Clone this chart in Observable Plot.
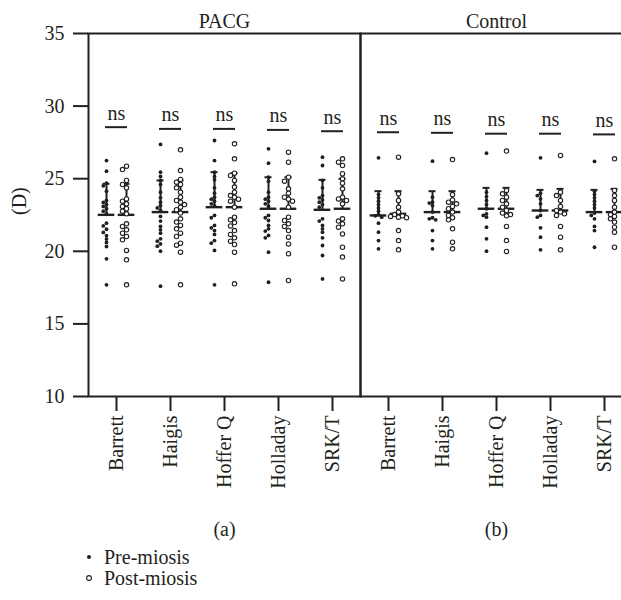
<!DOCTYPE html>
<html><head><meta charset="utf-8">
<script src="https://cdn.jsdelivr.net/npm/d3@7"></script>
<script src="https://cdn.jsdelivr.net/npm/@observablehq/plot@0.6"></script>
<style>
body { margin:0; background:#fff; font-family: "Liberation Serif", "Times New Roman", serif; color:#231f20; }
#wrap { width: 621px; overflow: hidden; }
#chart svg { display:block; }
.legend { margin-left: 84px; margin-top: 1.5px; font-size: 20px; line-height: 21px; }
.legend div { display:flex; align-items:center; height:21px; }
.legend svg { width:10px; height:10px; margin-right:10px; }
</style></head>
<body><div id="wrap"><div id="chart"></div><div class="legend" id="legend"></div></div>
<script>
const groups = ["PACG", "Control"];
const panelLetters = ["(a)", "(b)"];
const formulas = ["Barrett", "Haigis", "Hoffer Q", "Holladay", "SRK/T"];
const phaseLabels = ["Pre-miosis", "Post-miosis"];

// PACG, pre-miosis (one list per formula)
const pacgPre = [
  [26.25,25.52,24.69,24.51,24.14,23.50,23.36,23.22,23.09,22.93,22.76,22.58,21.94,21.75,21.52,21.30,21.07,20.84,20.61,20.33,19.48,17.69],
  [27.36,25.45,25.15,24.88,24.60,24.07,23.68,23.38,23.15,22.99,22.81,22.40,22.08,21.71,21.48,21.25,20.86,20.70,20.51,20.35,20.01,17.60],
  [27.63,26.25,25.45,25.15,24.92,24.37,24.00,23.73,23.59,23.45,23.27,23.13,22.47,22.31,21.78,21.62,21.43,21.16,20.74,20.56,20.06,17.69],
  [27.06,26.07,25.10,24.83,24.07,23.73,23.59,23.45,23.27,23.09,22.47,22.31,22.12,21.78,21.55,21.39,21.09,20.93,19.94,17.87],
  [26.48,25.91,24.88,24.37,23.84,23.68,23.54,23.38,23.22,23.04,22.24,22.08,21.78,21.55,21.32,20.93,20.40,19.71,18.10]
];
// PACG, post-miosis
const pacgPost = [
  [25.86,25.63,24.88,24.60,24.37,23.61,23.45,23.27,23.09,22.93,22.76,22.58,21.89,21.71,21.48,21.25,21.02,20.79,20.06,19.41,17.69],
  [26.99,25.56,24.95,24.76,24.60,24.37,24.07,23.73,23.50,23.38,23.22,23.04,22.86,22.63,22.24,22.01,21.78,21.55,21.25,21.02,20.56,20.42,19.94,17.69],
  [27.40,26.37,25.38,25.22,24.88,24.42,24.07,23.84,23.73,23.59,23.45,23.04,22.35,22.17,21.98,21.75,21.43,21.16,20.93,20.70,20.47,19.94,17.76],
  [26.83,26.14,25.10,24.83,24.30,24.00,23.73,23.59,23.45,23.04,22.35,22.12,21.89,21.71,21.43,20.97,20.51,19.83,17.99],
  [26.37,26.14,25.91,25.34,24.99,24.69,24.30,23.73,23.61,23.50,23.27,22.24,22.08,21.89,21.66,21.20,20.28,19.60,18.10]
];
// Control, pre-miosis
const controlPre = [
  [26.44,23.91,23.68,23.45,23.22,22.99,22.76,22.53,22.44,22.35,21.94,21.32,20.74,20.17],
  [26.21,23.73,23.38,23.32,23.15,22.70,22.31,22.24,22.17,21.43,20.74,20.17],
  [26.76,24.07,23.77,23.50,23.22,22.93,22.58,22.47,22.35,21.66,20.86,20.01],
  [26.44,24.00,23.84,23.61,23.27,22.81,22.47,22.35,21.62,20.97,20.10],
  [26.19,24.14,23.91,23.68,23.45,23.22,22.99,22.63,22.47,22.24,21.71,21.43,20.28]
];
// Control, post-miosis
const controlPost = [
  [26.48,23.96,23.50,23.04,22.70,22.53,22.44,22.40,22.35,22.31,21.43,20.74,20.10],
  [26.32,23.91,23.54,23.38,23.27,23.09,22.93,22.70,22.47,22.31,22.17,21.55,20.63,20.17],
  [26.90,24.19,23.96,23.73,23.50,23.27,23.04,22.81,22.63,22.53,22.44,21.71,20.74,19.99],
  [26.60,24.07,23.84,23.50,23.09,22.81,22.70,22.58,22.47,21.71,20.97,20.10],
  [26.37,24.19,23.84,23.50,23.04,22.70,22.53,22.40,22.24,22.01,21.66,21.32,20.28]
];

// Mean and SD (error bar drawn above the mean)
const pacgPreMean = [22.51, 22.70, 23.04, 22.93, 22.86];
const pacgPreSD = [2.14, 2.18, 2.41, 2.17, 2.06];
const pacgPostMean = [22.51, 22.70, 23.04, 22.93, 22.93];
const pacgPostSD = [2.14, 2.18, 2.34, 2.17, 2.06];
const controlPreMean = [22.47, 22.70, 22.93, 22.81, 22.70];
const controlPreSD = [1.67, 1.44, 1.44, 1.42, 1.53];
const controlPostMean = [22.58, 22.70, 22.93, 22.81, 22.70];
const controlPostSD = [1.56, 1.44, 1.44, 1.49, 1.60];

// Height of the "ns" bracket lines
const pacgNs = [28.55, 28.43, 28.43, 28.36, 28.27];
const controlNs = [28.20, 28.16, 28.10, 28.10, 28.05];
const nsLabel = "ns";

const yDomain = [10, 35];
const dims = {width: 632, height: 545, marginTop: 33, marginBottom: 149, marginLeft: 88, marginRight: 0};
const pxPerUnit = (dims.height - dims.marginTop - dims.marginBottom) / (yDomain[1] - yDomain[0]);

const seriesDefs = [
  {group: "PACG", phase: 0, values: pacgPre, means: pacgPreMean, sds: pacgPreSD},
  {group: "PACG", phase: 1, values: pacgPost, means: pacgPostMean, sds: pacgPostSD},
  {group: "Control", phase: 0, values: controlPre, means: controlPreMean, sds: controlPreSD},
  {group: "Control", phase: 1, values: controlPost, means: controlPostMean, sds: controlPostSD}
];

// scatter-plot spreading of overlapping points into side lanes (beeswarm-like)
const laneOrder = [0, -1, 1, -2, 2];
const laneStep = [3.2, 4.0];
const minDist = [3.2, 4.2];
function assignLanes(values, ph) {
  const placed = [];
  const order = values.map((v, i) => i).sort((a, b) => values[b] - values[a]);
  const lanes = new Array(values.length);
  for (const i of order) {
    const y = values[i] * pxPerUnit;
    let best = 0, bestGap = -Infinity;
    for (const lane of laneOrder) {
      const gap = Math.min(Infinity, ...placed.map(p => Math.hypot((p.lane - lane) * laneStep[ph], p.y - y)));
      if (gap >= minDist[ph]) { best = lane; bestGap = Infinity; break; }
      if (gap > bestGap + 0.5) { best = lane; bestGap = gap; }
    }
    lanes[i] = best;
    placed.push({lane: best, y});
  }
  return lanes;
}

const points = [[], []];
const stats = [[], []];
for (const s of seriesDefs) {
  formulas.forEach((f, i) => {
    const lanes = assignLanes(s.values[i], s.phase);
    s.values[i].forEach((v, k) => points[s.phase].push({group: s.group, formula: f, value: v, lane: lanes[k]}));
    stats[s.phase].push({group: s.group, formula: f, mean: s.means[i], top: s.means[i] + s.sds[i]});
  });
}
const nsRows = [];
formulas.forEach((f, i) => {
  nsRows.push({group: "PACG", formula: f, y: pacgNs[i]});
  nsRows.push({group: "Control", formula: f, y: controlNs[i]});
});

const ink = "#231f20";
const offsets = [-10, 10];

function errorMarks(ph) {
  return [
    Plot.ruleX(stats[ph], {fx: "group", x: "formula", y1: "mean", y2: "top", dx: offsets[ph], stroke: ink, strokeWidth: 2}),
    Plot.tickY(stats[ph], {fx: "group", x: "formula", y: "mean", dx: offsets[ph], insetLeft: 18.7, insetRight: 18.7, stroke: ink, strokeWidth: 2.4}),
    Plot.tickY(stats[ph], {fx: "group", x: "formula", y: "top", dx: offsets[ph], insetLeft: 23.5, insetRight: 23.5, stroke: ink, strokeWidth: 2})
  ];
}
function dotMarks(ph) {
  return laneOrder.map(lane => Plot.dot(points[ph].filter(d => d.lane === lane), {
    fx: "group", x: "formula", y: "value", dx: offsets[ph] + lane * laneStep[ph],
    ...(ph === 0 ? {r: 1.9, fill: ink, stroke: "none"} : {r: 2.2, fill: "white", stroke: ink, strokeWidth: 1.1})
  }));
}

const chart = Plot.plot({
  ...dims,
  style: {fontFamily: "'Liberation Serif', 'Times New Roman', serif", fontSize: "20px", color: ink, background: "white", maxWidth: "none"},
  fx: {domain: groups, padding: 0},
  x: {domain: formulas, type: "band", padding: 0},
  y: {domain: yDomain},
  marks: [
    Plot.frame({stroke: ink, strokeWidth: 2}),
    Plot.axisY({ticks: [10, 15, 20, 25, 30, 35], tickSize: 15, tickPadding: 9, stroke: ink, strokeWidth: 2, label: null, fontSize: 20}),
    Plot.text(["(D)"], {fx: () => "PACG", text: d => d, frameAnchor: "left", rotate: -90, dx: -69, fontSize: 20, fill: ink}),
    Plot.axisX({tickRotate: -90, tickSize: 15, tickPadding: 4, stroke: ink, strokeWidth: 2, label: null, fontSize: 20}),
    Plot.axisFx({anchor: "top", label: null, tickSize: 0, tickPadding: 6, fontSize: 20}),
    Plot.axisFx({anchor: "bottom", label: null, tickSize: 0, tickPadding: 125, fontSize: 20, tickFormat: d => panelLetters[groups.indexOf(d)]}),
    ...errorMarks(0),
    ...errorMarks(1),
    ...dotMarks(0),
    ...dotMarks(1),
    Plot.tickY(nsRows, {fx: "group", x: "formula", y: "y", insetLeft: 16, insetRight: 16, stroke: ink, strokeWidth: 2}),
    Plot.text(nsRows, {fx: "group", x: "formula", y: "y", text: () => nsLabel, dy: -14, fontSize: 20, fill: ink})
  ]
});
document.getElementById("chart").appendChild(chart);

// legend
const legend = document.getElementById("legend");
phaseLabels.forEach((label, i) => {
  const row = document.createElement("div");
  const sym = i === 0
    ? `<svg viewBox="0 0 10 10"><circle cx="5" cy="5" r="2" fill="${ink}"/></svg>`
    : `<svg viewBox="0 0 10 10"><circle cx="5" cy="5" r="2.4" fill="white" stroke="${ink}" stroke-width="1.1"/></svg>`;
  row.innerHTML = sym + `<span>${label}</span>`;
  legend.appendChild(row);
});
</script>
</body></html>
